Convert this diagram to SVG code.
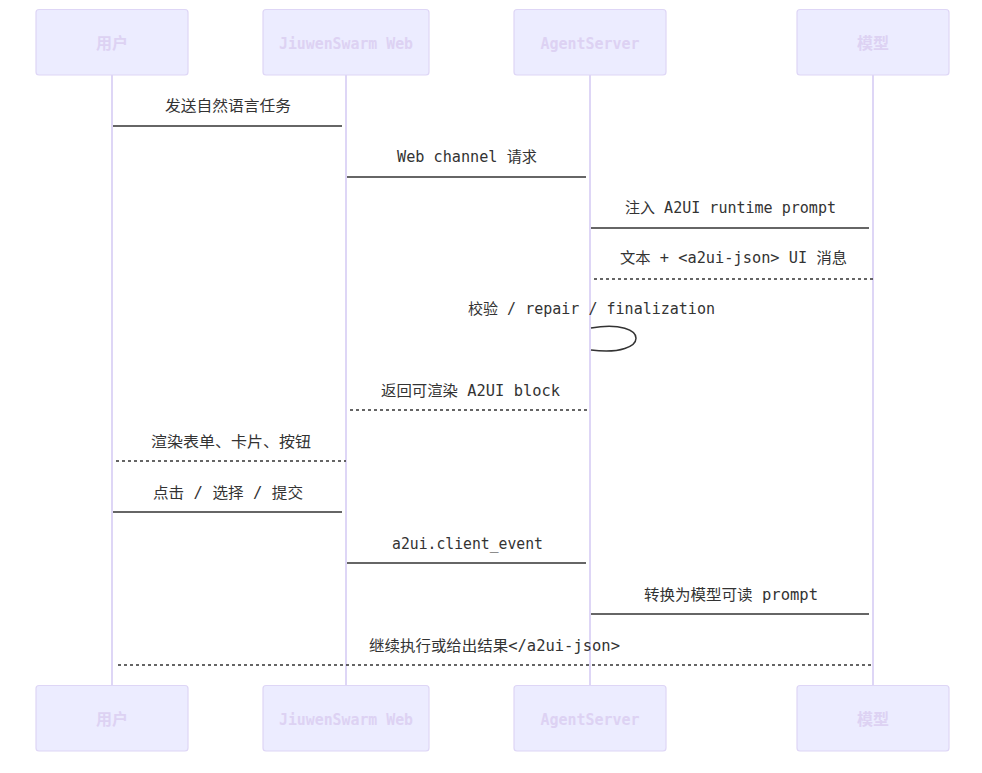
<svg xmlns="http://www.w3.org/2000/svg" width="982" height="773" viewBox="0 0 982 773">
<style>
.box{fill:#ECECFF;stroke:#ded6f6;stroke-width:1.2;}
.atext{fill:#ddd2f3;font-family:"DejaVu Sans Mono","Noto Sans CJK SC",monospace;font-weight:bold;font-size:16px;text-anchor:middle;dominant-baseline:central;}
.life{stroke:#ded6f6;stroke-width:2;fill:none;}
.msg{stroke:#333;stroke-width:1.5;fill:none;}
.dash{stroke-dasharray:3,3;}
.mtext{fill:#333;font-family:"DejaVu Sans Mono","Noto Sans CJK SC",monospace;font-size:15px;text-anchor:middle;dominant-baseline:central;}
</style>
<rect width="982" height="773" fill="#fff"/>
<g id="lifelines">
<line class="life" x1="112" y1="75" x2="112" y2="685"/>
<line class="life" x1="346" y1="75" x2="346" y2="685"/>
<line class="life" x1="590" y1="75" x2="590" y2="685"/>
<line class="life" x1="873" y1="75" x2="873" y2="685"/>
</g>
<g id="actor-user">
<rect class="box" x="36" y="9.5" width="152" height="65.5" rx="3"/>
<text class="atext" x="112" y="43">用户</text>
<rect class="box" x="36" y="685.5" width="152" height="65.5" rx="3"/>
<text class="atext" x="112" y="719">用户</text>
</g>
<g id="actor-web">
<rect class="box" x="263" y="9.5" width="166" height="65.5" rx="3"/>
<text class="atext" x="346" y="43" textLength="134" lengthAdjust="spacingAndGlyphs">JiuwenSwarm Web</text>
<rect class="box" x="263" y="685.5" width="166" height="65.5" rx="3"/>
<text class="atext" x="346" y="719" textLength="134" lengthAdjust="spacingAndGlyphs">JiuwenSwarm Web</text>
</g>
<g id="actor-server">
<rect class="box" x="514" y="9.5" width="152" height="65.5" rx="3"/>
<text class="atext" x="590" y="43" textLength="99" lengthAdjust="spacingAndGlyphs">AgentServer</text>
<rect class="box" x="514" y="685.5" width="152" height="65.5" rx="3"/>
<text class="atext" x="590" y="719" textLength="99" lengthAdjust="spacingAndGlyphs">AgentServer</text>
</g>
<g id="actor-model">
<rect class="box" x="797" y="9.5" width="152" height="65.5" rx="3"/>
<text class="atext" x="873" y="43">模型</text>
<rect class="box" x="797" y="685.5" width="152" height="65.5" rx="3"/>
<text class="atext" x="873" y="719">模型</text>
</g>
<g id="connectors">
<line class="msg" x1="113" y1="126" x2="342" y2="126"/>
<line class="msg" x1="347" y1="177" x2="586" y2="177"/>
<line class="msg" x1="591" y1="228" x2="869" y2="228"/>
<line class="msg dash" x1="594" y1="279" x2="873" y2="279"/>
<path class="msg" d="M591,328 C651,318 651,358 591,350"/>
<line class="msg dash" x1="350" y1="410" x2="590" y2="410"/>
<line class="msg dash" x1="116" y1="461" x2="346" y2="461"/>
<line class="msg" x1="113" y1="512" x2="342" y2="512"/>
<line class="msg" x1="347" y1="563" x2="586" y2="563"/>
<line class="msg" x1="591" y1="614" x2="869" y2="614"/>
<line class="msg dash" x1="118" y1="665" x2="873" y2="665"/>
</g>
<g id="labels">
<text class="mtext" x="228" y="106" textLength="126" lengthAdjust="spacingAndGlyphs">发送自然语言任务</text>
<text class="mtext" x="467" y="157" textLength="140" lengthAdjust="spacingAndGlyphs">Web channel 请求</text>
<text class="mtext" x="730.5" y="208" textLength="211" lengthAdjust="spacingAndGlyphs">注入 A2UI runtime prompt</text>
<text class="mtext" x="733.5" y="258" textLength="227" lengthAdjust="spacingAndGlyphs">文本 + &lt;a2ui-json&gt; UI 消息</text>
<text class="mtext" x="591.5" y="309" textLength="247" lengthAdjust="spacingAndGlyphs">校验 / repair / finalization</text>
<text class="mtext" x="470.5" y="391" textLength="179" lengthAdjust="spacingAndGlyphs">返回可渲染 A2UI block</text>
<text class="mtext" x="231" y="442" textLength="160" lengthAdjust="spacingAndGlyphs">渲染表单、卡片、按钮</text>
<text class="mtext" x="228" y="493" textLength="150" lengthAdjust="spacingAndGlyphs">点击 / 选择 / 提交</text>
<text class="mtext" x="467.5" y="544" textLength="151" lengthAdjust="spacingAndGlyphs">a2ui.client_event</text>
<text class="mtext" x="731" y="595" textLength="174" lengthAdjust="spacingAndGlyphs">转换为模型可读 prompt</text>
<text class="mtext" x="494.5" y="646" textLength="251" lengthAdjust="spacingAndGlyphs">继续执行或给出结果&lt;/a2ui-json&gt;</text>
</g>
</svg>
